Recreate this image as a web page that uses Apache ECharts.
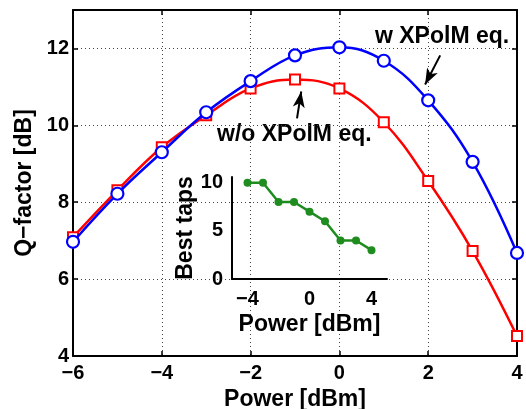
<!DOCTYPE html>
<html>
<head>
<meta charset="utf-8">
<script src="https://cdn.jsdelivr.net/npm/echarts@6/dist/echarts.min.js"></script>
<style>html,body{margin:0;padding:0;background:#fff}#c{width:526px;height:409px}</style>
</head>
<body>
<div id="c"></div>
<script>
// Data
const powers = [-6, -5, -4, -3, -2, -1, 0, 1, 2, 3, 4];
const qWithEq = [6.97, 8.22, 9.30, 10.34, 11.15, 11.82, 12.03, 11.68, 10.65, 9.05, 6.68];
const qWithoutEq = [7.09, 8.31, 9.43, 10.26, 10.96, 11.19, 10.96, 10.08, 8.55, 6.73, 4.52];
const insetPowers = [-4, -3, -2, -1, 0, 1, 2, 3, 4];
const bestTaps = [10, 10, 8, 8, 7, 6, 4, 4, 3];
const mainXTicks = [-6, -4, -2, 0, 2, 4];
const mainYTicks = [4, 6, 8, 10, 12];
const insetXTicks = [-4, 0, 4];
const insetYTicks = [0, 5, 10];
const labelWith = 'w XPolM eq.';
const labelWithout = 'w/o XPolM eq.';

const FONT = 'Liberation Sans, Arial, Helvetica, sans-serif';
const fmt = v => (v < 0 ? '\u2212' + Math.abs(v) : String(v));
const pairs = (xs, ys) => xs.map((x, i) => [x, ys[i]]);

const chart = echarts.init(document.getElementById('c'), null, {renderer: 'canvas'});
const tickLabel = {fontFamily: FONT, fontWeight: 'bold', fontSize: 20, color: '#000'};
const nameStyle = {fontFamily: FONT, fontWeight: 'bold', fontSize: 23, color: '#000'};
const dotted = {color: '#444', width: 1, type: [1, 3]};
const boxLine = {show: true, onZero: false, lineStyle: {color: '#000', width: 2}};
const inTick = {show: true, inside: true, length: 5, lineStyle: {color: '#000', width: 1.5}};

chart.setOption({
  animation: false,
  backgroundColor: '#fff',
  grid: [
    {left: 73, right: 9, top: 10, bottom: 53, show: false, containLabel: false, outerBoundsMode: 'none'},
    {left: 232, top: 177, width: 155, height: 102, show: false, containLabel: false, outerBoundsMode: 'none'}
  ],
  xAxis: [
    {gridIndex: 0, type: 'value', min: -6, max: 4, interval: 2, position: 'bottom',
     axisLine: boxLine, axisTick: inTick,
     axisLabel: Object.assign({margin: 7, formatter: v => mainXTicks.includes(v) ? fmt(v) : ''}, tickLabel),
     splitLine: {show: true, lineStyle: dotted},
     name: 'Power [dBm]', nameLocation: 'middle', nameGap: 25, nameTextStyle: nameStyle},
    {gridIndex: 0, type: 'value', min: -6, max: 4, interval: 2, position: 'top',
     axisLine: boxLine, axisTick: inTick,
     axisLabel: {show: false}, splitLine: {show: false}},
    {gridIndex: 1, type: 'value', min: -5, max: 5, interval: 1,
     axisLine: boxLine,
     axisTick: {show: false},
     axisLabel: Object.assign({margin: 10, formatter: v => insetXTicks.includes(v) ? fmt(v) : ''}, tickLabel),
     splitLine: {show: false},
     name: 'Power [dBm]', nameLocation: 'middle', nameGap: 34, nameTextStyle: nameStyle}
  ],
  yAxis: [
    {gridIndex: 0, type: 'value', min: 4, max: 13, interval: 2, position: 'left',
     axisLine: boxLine, axisTick: inTick,
     axisLabel: Object.assign({margin: 4, formatter: v => mainYTicks.includes(v) ? fmt(v) : ''}, tickLabel),
     splitLine: {show: true, lineStyle: dotted},
     name: 'Q\u2212factor [dB]', nameLocation: 'middle', nameGap: 33, nameRotate: 90, nameTextStyle: nameStyle},
    {gridIndex: 0, type: 'value', min: 4, max: 13, interval: 2, position: 'right',
     axisLine: boxLine, axisTick: inTick,
     axisLabel: {show: false}, splitLine: {show: false}},
    {gridIndex: 1, type: 'value', min: 0, max: 10.6, interval: 5,
     axisLine: boxLine,
     axisTick: {show: false},
     axisLabel: Object.assign({margin: 9, formatter: v => insetYTicks.includes(v) ? fmt(v) : ''}, tickLabel),
     splitLine: {show: false},
     name: 'Best taps', nameLocation: 'middle', nameGap: 32, nameRotate: 90, nameTextStyle: nameStyle}
  ],
  series: [
    {type: 'line', name: labelWithout, xAxisIndex: 0, yAxisIndex: 0, data: pairs(powers, qWithoutEq),
     smooth: 0.4, symbol: 'rect', symbolSize: 10, z: 3,
     lineStyle: {color: '#ff0000', width: 2.5},
     itemStyle: {color: '#fff', borderColor: '#ff0000', borderWidth: 2},
     markLine: {silent: true, symbol: ['none', 'arrow'], symbolSize: [9, 16], label: {show: false},
       lineStyle: {color: '#000', width: 2, type: 'solid'},
       data: [[{coord: [-0.955, 10.18]}, {coord: [-0.86, 10.88]}]]}},
    {type: 'line', name: labelWith, xAxisIndex: 0, yAxisIndex: 0, data: pairs(powers, qWithEq),
     smooth: 0.4, symbol: 'circle', symbolSize: 12, z: 4,
     lineStyle: {color: '#0000ff', width: 2.5},
     itemStyle: {color: '#fff', borderColor: '#0000ff', borderWidth: 2.2},
     markLine: {silent: true, symbol: ['none', 'arrow'], symbolSize: [9, 16], label: {show: false},
       lineStyle: {color: '#000', width: 2, type: 'solid'},
       data: [[{coord: [2.27, 11.82]}, {coord: [1.93, 11.06]}]]}},
    {type: 'line', name: 'Best taps', xAxisIndex: 2, yAxisIndex: 2, data: pairs(insetPowers, bestTaps),
     symbol: 'circle', symbolSize: 8, z: 5,
     lineStyle: {color: '#1e8c1e', width: 2.5},
     itemStyle: {color: '#1e8c1e'}}
  ],
  graphic: [
    {type: 'text', left: 375, top: 25, style: {text: labelWith, fontFamily: FONT, fontWeight: 'bold', fontSize: 23, fill: '#000'}},
    {type: 'text', left: 217, top: 123, style: {text: labelWithout, fontFamily: FONT, fontWeight: 'bold', fontSize: 23, fill: '#000'}}
  ]
});
</script>
</body>
</html>
